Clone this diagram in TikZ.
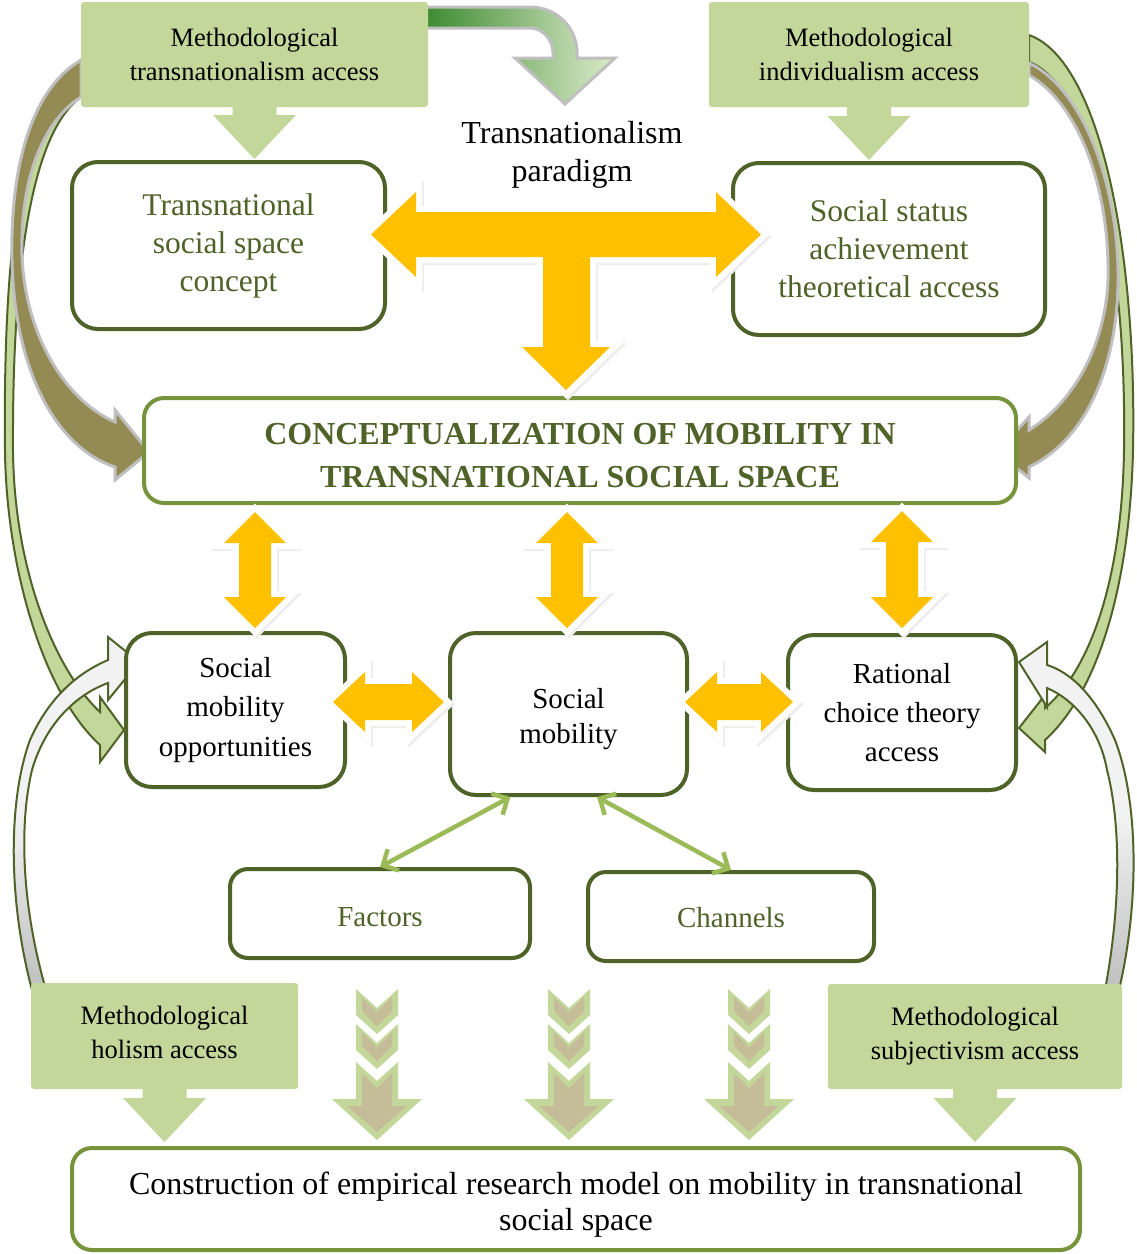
\documentclass[tikz,border=0pt]{standalone}
\usepackage{fontspec}
\setmainfont{Liberation Serif}
\usetikzlibrary{arrows.meta,calc}
\definecolor{gbox}{HTML}{C4D79B}
\definecolor{dkol}{HTML}{4F6228}
\definecolor{olv}{HTML}{77933C}
\definecolor{ylw}{HTML}{FFC000}
\definecolor{khaki}{HTML}{948A54}
\definecolor{tanc}{HTML}{C4BD97}
\definecolor{lgl}{HTML}{9BBB59}
\definecolor{shgrey}{HTML}{BFBFBF}
\definecolor{wht}{HTML}{F2F2F2}
\definecolor{dgrn}{HTML}{3E8B32}
\definecolor{pgrn}{HTML}{DDEBCB}

\newcommand\yarrow[1]{%
 \filldraw[black!7, line width=12pt, line join=miter, shift={(2,2)}] #1;
 \filldraw[white, line width=12pt, line join=miter] #1;
 \fill[ylw] #1;}
\newcommand\vdarr[3]{\yarrow{(#1,#2) -- ++(31,31) -- ++(-15,0) -- ++(0,#3) -- ++(15,0) -- ++(-31,31) -- ++(-31,-31) -- ++(15,0) -- ++(0,-#3) -- ++(-15,0) -- cycle}}
\newcommand\hdarr[3]{\yarrow{(#1,#2) -- ++(32,-30) -- ++(0,12) -- ++(#3,0) -- ++(0,-12) -- ++(32,30) -- ++(-32,30) -- ++(0,-12) -- ++(-#3,0) -- ++(0,12) -- cycle}}
\newcommand\gdown[2]{\fill[gbox] ($(#1)+(-22,-3)$) -- ($(#1)+(22,-3)$) -- ($(#2)+(22,-44)$) -- ($(#2)+(41.5,-44)$) -- (#2) -- ($(#2)+(-41.5,-44)$) -- ($(#2)+(-22,-44)$) -- cycle;}
\newcommand\chevs[1]{%
\begin{scope}[shift={(#1,989)}]
 \fill[gbox] (-21,0) -- (0,19) -- (21,0) -- (21,26) -- (0,45) -- (-21,26) -- cycle;
 \fill[tanc] (-15,8) -- (0,23) -- (15,8) -- (15,22) -- (0,37) -- (-15,22) -- cycle;
 \fill[gbox] (-21,35) -- (0,54) -- (21,35) -- (21,61) -- (0,80) -- (-21,61) -- cycle;
 \fill[tanc] (-15,43) -- (0,58) -- (15,43) -- (15,57) -- (0,72) -- (-15,57) -- cycle;
 \fill[gbox] (-21,73) -- (0,92) -- (21,73) -- (21,110) -- (45,110) -- (0,151) -- (-45,110) -- (-21,110) -- cycle;
 \fill[tanc] (-15,84) -- (0,99) -- (15,84) -- (15,117) -- (30,117) -- (0,143) -- (-30,117) -- (-15,117) -- cycle;
\end{scope}}
\newcommand\up[1]{\rule{0pt}{#1pt}}
\newcommand\dn[1]{\rule[-#1pt]{0pt}{#1pt}}

\tikzset{
 gb/.style={fill=gbox, rounded corners=3pt, font=\fontsize{26.5}{34}\selectfont, align=center, inner sep=0pt, text=black},
 ob/.style={draw=dkol, line width=4pt, fill=white, rounded corners=26pt, align=center, inner sep=0pt},
 lb/.style={draw=olv, line width=4pt, fill=white, rounded corners=20pt, align=center, inner sep=0pt},
 khakiarr/.style={fill=khaki, draw=shgrey, line width=3pt},
 greenarr/.style={fill=gbox, draw=dkol, line width=2pt},
 whitearr/.style={top color=wht, bottom color=shgrey, middle color=wht, draw=dkol, line width=2pt},
 conn/.style={lgl, line width=4.5pt, {Straight Barb[length=12pt,width=24pt]}-{Straight Barb[length=12pt,width=24pt]}}
}

\begin{document}
\begin{tikzpicture}[x=1pt,y=-1pt]
\useasboundingbox (0,0) rectangle (1137,1254);
\fill[white] (0,0) rectangle (1137,1254);

% side curved arrows
\filldraw[greenarr]
 (81,62) .. controls (20,100) and (3,250) .. (5,450) .. controls (6,560) and (40,690) .. (100,745)
 -- (100,762) -- (124,730) -- (100,697) -- (100,712)
 .. controls (55,670) and (14,570) .. (13,450) .. controls (12,250) and (35,130) .. (81,97) -- cycle;
\filldraw[khakiarr]
 (81,60) .. controls (30,90) and (10,170) .. (12,260) .. controls (14,360) and (50,445) .. (115,467)
 -- (115,480) -- (149,452) -- (115,410) -- (115,422)
 .. controls (65,400) and (25,335) .. (22,255) .. controls (20,175) and (45,120) .. (81,97) -- cycle;
\filldraw[greenarr]
 (1029,35) .. controls (1100,60) and (1137,250) .. (1133,450) .. controls (1130,580) and (1100,690) .. (1045,740)
 -- (1045,752) -- (1019,728) -- (1045,695) -- (1045,708)
 .. controls (1090,670) and (1122,580) .. (1124,450) .. controls (1127,260) and (1092,85) .. (1029,62) -- cycle;
\filldraw[khakiarr]
 (1029,63) .. controls (1085,90) and (1120,190) .. (1118,285) .. controls (1116,370) and (1085,440) .. (1029,467)
 -- (1029,478) -- (997,452) -- (1029,417) -- (1029,430)
 .. controls (1070,405) and (1105,350) .. (1108,280) .. controls (1110,190) and (1080,105) .. (1029,75) -- cycle;
\filldraw[whitearr]
 (32,990) .. controls (8,900) and (8,800) .. (30,740) .. controls (50,695) and (80,672) .. (108,660)
 -- (108,637) -- (139,662) -- (108,700) -- (108,683)
 .. controls (75,695) and (45,725) .. (32,770) .. controls (20,820) and (20,900) .. (46,990) -- cycle;
\filldraw[whitearr]
 (1119,990) .. controls (1140,900) and (1138,800) .. (1115,740) .. controls (1095,695) and (1070,672) .. (1047,665)
 -- (1047,642) -- (1019,662) -- (1047,707) -- (1047,688)
 .. controls (1075,700) and (1100,730) .. (1107,770) .. controls (1120,820) and (1122,900) .. (1105,990) -- cycle;

% top gradient arrow
\filldraw[left color=dgrn, right color=pgrn, draw=shgrey, line width=3pt]
 (426,7) -- (530,7) .. controls (556,7) and (577,27) .. (577,53) -- (577,58) -- (615,58) -- (565,104) -- (515,58) -- (553,58) -- (553,53) .. controls (553,40) and (543,28) .. (530,28) -- (426,28) -- cycle;

% green boxes
\node[gb, minimum width=347pt, minimum height=105pt] (mta) at (254.5,54.5) {Methodological\\transnationalism access};
\node[gb, minimum width=320pt, minimum height=105pt] (mia) at (869,54.5) {Methodological\\individualism access};
\node[gb, minimum width=267pt, minimum height=106pt] (mha) at (164.5,1036) {Methodological\\holism access\dn{8}};
\node[gb, minimum width=294pt, minimum height=105pt] (msa) at (975,1036.5) {Methodological\\subjectivism access};

% main boxes
\node[ob, text=dkol, font=\fontsize{31.5}{38}\selectfont, minimum width=313pt, minimum height=167pt] (tsc) at (228.5,245.5) {Transnational\\social space\\concept};
\node[ob, text=dkol, font=\fontsize{31.5}{38}\selectfont, minimum width=312pt, minimum height=172pt] (ssa) at (889,249) {Social status\\achievement\\theoretical access};
\node[font=\fontsize{32}{38}\selectfont, align=center] (tp) at (572,152) {\up{28}Transnationalism\\paradigm};
\node[lb, text=dkol, font=\fontsize{32}{43}\selectfont\bfseries, minimum width=872pt, minimum height=105pt] (conc) at (580,450.5) {\up{31}CONCEPTUALIZATION OF MOBILITY IN\\TRANSNATIONAL SOCIAL SPACE};
\node[ob, font=\fontsize{29}{39.5}\selectfont, minimum width=219pt, minimum height=154pt] (smo) at (235.5,710) {Social\\mobility\\opportunities};
\node[ob, font=\fontsize{29}{35}\selectfont, minimum width=237pt, minimum height=162pt] (sm) at (568.5,714) {\up{30}Social\\mobility};
\node[ob, font=\fontsize{29}{39}\selectfont, minimum width=228pt, minimum height=155pt] (rct) at (902,712.5) {Rational\\choice theory\\access};
\node[ob, rounded corners=18pt, text=dkol, font=\fontsize{29}{35}\selectfont, minimum width=300pt, minimum height=89pt] (fac) at (380,913.5) {\up{26}Factors};
\node[ob, rounded corners=18pt, text=dkol, font=\fontsize{29}{35}\selectfont, minimum width=286pt, minimum height=89pt] (chn) at (731,916.5) {\up{23}Channels};
\node[lb, font=\fontsize{32}{36}\selectfont, minimum width=1008pt, minimum height=102pt] (cons) at (576,1199) {\up{34}Construction of empirical research model on mobility in transnational\\social space};

% green block arrows from access boxes
\coordinate (t1) at ($(mta.south |- tsc.north)+(0,-1)$);
\coordinate (t2) at ($(mia.south |- ssa.north)+(0,-1)$);
\coordinate (t3) at ($(mha.south |- cons.north)+(0,-4)$);
\coordinate (t4) at ($(msa.south |- cons.north)+(0,-4)$);
\gdown{mta.south}{t1}
\gdown{mia.south}{t2}
\gdown{mha.south}{t3}
\gdown{msa.south}{t4}

% chevron arrows
\chevs{377}
\chevs{569}
\chevs{749}

% yellow arrows
\yarrow{(371,234.5) -- (416,192) -- (416,212) -- (716,212) -- (716,192) -- (761,234.5) -- (716,277) -- (716,257) -- (590,257) -- (590,347) -- (610,347) -- (566,390) -- (522,347) -- (543,347) -- (543,257) -- (416,257) -- (416,277) -- cycle}
\vdarr{255}{512}{54}
\vdarr{567}{512}{54}
\vdarr{902}{511}{55}
\hdarr{333}{702}{47}
\hdarr{685}{702}{44}

% connectors
\draw[conn] (sm.235) -- (fac.north);
\draw[conn] (sm.289) -- (chn.north);
\end{tikzpicture}
\end{document}
